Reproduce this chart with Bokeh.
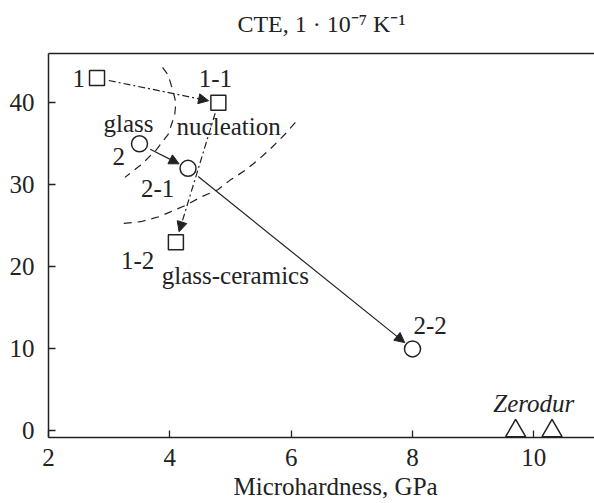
import math
from bokeh.plotting import figure
from bokeh.models import Range1d, LinearAxis, Arrow, NormalHead, Title, FixedTicker
from bokeh.embed import file_html
from bokeh.resources import INLINE
from bokeh.core.properties import value

# ---- data ----
square_labels = ["1", "1-1", "1-2"]
square_x = [2.8, 4.8, 4.1]
square_y = [43.0, 40.0, 23.0]

circle_labels = ["2", "2-1", "2-2"]
circle_x = [3.5, 4.3, 8.0]
circle_y = [35.0, 32.0, 10.0]

zerodur_x = [9.7, 10.3]
zerodur_y = [0.0, 0.0]

# boundary curves (dashed)
curveA_x = [3.88, 3.97, 4.05, 4.10, 4.08, 3.97, 3.77, 3.52, 3.26]
curveA_y = [44.3, 43.4, 41.5, 40.0, 38.5, 36.1, 34.2, 32.4, 30.9]
curveB_x = [3.24, 3.52, 3.82, 4.01, 4.26, 4.51, 4.79, 5.00, 5.25, 5.45, 5.66, 5.89, 6.07]
curveB_y = [25.3, 25.5, 26.1, 26.7, 27.5, 28.5, 29.4, 30.6, 31.8, 33.0, 34.4, 36.1, 37.6]

# annotation labels
label_text = ["1", "1-1", "glass", "nucleation", "2", "2-1", "1-2", "glass-ceramics", "2-2"]
label_x = [2.50, 4.75, 3.32, 4.97, 3.16, 3.80, 3.47, 5.08, 8.29]
label_y = [43.0, 42.95, 37.5, 37.1, 33.4, 29.6, 20.8, 18.9, 12.9]

x_ticks = [2, 4, 6, 8, 10]
y_ticks = [0, 10, 20, 30, 40]

title_text = "CTE, 1 · 10⁻⁷ K⁻¹"
x_label_text = "Microhardness, GPa"

# ---- layout ----
W, H = 594, 503
BL, BT, BB, BR = 48, 53, 66, 0
X0, X1 = 2.0, 11.0
Y0, Y1 = -0.8, 46.0
C = "#222222"
FONT = "Liberation Serif"
FS = "25px"

p = figure(width=W, height=H, x_range=Range1d(X0, X1), y_range=Range1d(Y0, Y1),
           output_backend="svg", toolbar_location=None,
           min_border_left=BL, min_border_right=BR, min_border_top=BT, min_border_bottom=BB)
p.grid.visible = False
p.outline_line_color = None
p.background_fill_color = "white"
p.border_fill_color = "white"

for ax, ticks in ((p.xaxis[0], x_ticks), (p.yaxis[0], y_ticks)):
    ax.ticker = FixedTicker(ticks=ticks)
    ax.major_tick_in = 7
    ax.major_tick_out = 0
    ax.minor_tick_line_color = None
    ax.axis_line_color = C
    ax.axis_line_width = 1.5
    ax.major_tick_line_color = C
    ax.major_tick_line_width = 1.3
    ax.major_label_text_font = FONT
    ax.major_label_text_font_size = FS
    ax.major_label_text_color = C
p.xaxis[0].major_label_standoff = 11
p.yaxis[0].major_label_standoff = 14

# top frame line carrying the chart title
top = LinearAxis(ticker=FixedTicker(ticks=[]), major_label_text_font_size="0px",
                 major_tick_in=0, major_tick_out=0, minor_tick_line_color=None,
                 axis_line_color=C, axis_line_width=1.5, major_label_standoff=0,
                 axis_label=title_text, axis_label_text_font=FONT,
                 axis_label_text_font_style="normal", axis_label_text_font_size="24px",
                 axis_label_text_color=C, axis_label_standoff=17)
p.add_layout(top, "above")

p.add_layout(Title(text=x_label_text, align="left", offset=185, text_font=FONT,
                   text_font_style="normal", text_font_size=FS, text_color=C,
                   standoff=5), "below")

# dashed boundaries
p.line(curveA_x, curveA_y, line_color=C, line_width=1.2, line_dash="8 6")
p.line(curveB_x, curveB_y, line_color=C, line_width=1.2, line_dash="8 6")

# arrows
SX = (W - BL - BR) / (X1 - X0)
SY = (H - BT - BB) / (Y1 - Y0)

def trimmed(xa, ya, xb, yb, ra, rb):
    dx = (xb - xa) * SX
    dy = (yb - ya) * SY
    L = math.hypot(dx, dy)
    ux, uy = dx / L, dy / L
    return xa + ux * ra / SX, ya + uy * ra / SY, xb - ux * rb / SX, yb - uy * rb / SY

def add_arrow(xs, ys, i, j, ra, rb, dash):
    x0, y0, x1, y1 = trimmed(xs[i], ys[i], xs[j], ys[j], ra, rb)
    p.add_layout(Arrow(end=NormalHead(size=10, fill_color=C, line_color=C, line_width=1),
                       x_start=x0, y_start=y0, x_end=x1, y_end=y1,
                       line_color=C, line_width=1.2, line_dash=dash))

add_arrow(square_x, square_y, 0, 1, 12, 10, "7 3 2 3")
add_arrow(square_x, square_y, 1, 2, 11, 11, "7 3 2 3")
add_arrow(circle_x, circle_y, 0, 1, 12, 10, "solid")
add_arrow(circle_x, circle_y, 1, 2, 13, 10, "solid")

# markers
p.scatter(square_x, square_y, marker="square", size=15, fill_color="white",
          line_color=C, line_width=1.5)
p.scatter(circle_x, circle_y, marker="circle", size=16, fill_color="white",
          line_color=C, line_width=1.5)
p.scatter(zerodur_x, zerodur_y, marker="triangle", size=20, fill_color="white",
          line_color=C, line_width=1.5)

# labels
p.text(x=label_x, y=label_y, text=label_text, text_font=value(FONT),
       text_font_size=FS, text_align="center", text_baseline="middle", text_color=C)
p.text(x=[sum(zerodur_x) / 2], y=[3.3], text=["Zerodur"], text_font=value(FONT),
       text_font_style="italic", text_font_size=FS, text_align="center",
       text_baseline="middle", text_color=C)

open("out.html", "w").write(file_html(p, INLINE))
